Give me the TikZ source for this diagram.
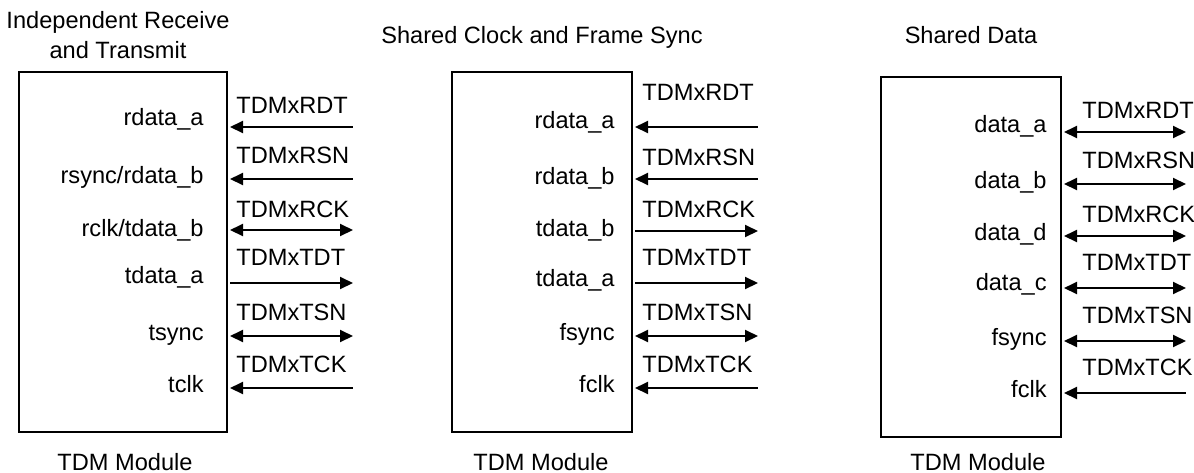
\documentclass[tikz,border=0pt]{standalone}
\usepackage{fontspec}
\setmainfont{Liberation Sans}
\usetikzlibrary{arrows.meta}

\begin{document}
\begin{tikzpicture}[x=0.5pt,y=-0.5pt,>={Triangle[length=6.5pt,width=6pt]},
    font=\fontsize{11.8}{15}\selectfont,
    modbox/.style={draw,line width=1pt,inner sep=0pt},
    sigline/.style={line width=1pt,shorten <=1pt},
    signame/.style={anchor=base east,inner sep=0pt},
    pinname/.style={anchor=base west,inner sep=0pt},
    caption/.style={anchor=base,inner sep=0pt}]
  \useasboundingbox (0,0) rectangle (1194,472);

  % independent receive and transmit
  \node[caption,anchor=north,align=center] (title1) at (118,11) {Independent Receive\\and Transmit};
  \node[modbox,minimum width=104pt,minimum height=180pt] (mod1) at (123,252) {};
  \node[caption] (cap1) at (125,470) {TDM Module};
  \coordinate (rdt1) at (353,127);
  \coordinate (rsn1) at (353,179);
  \coordinate (rck1) at (353,230);
  \coordinate (tdt1) at (353,283);
  \coordinate (tsn1) at (353,336);
  \coordinate (tck1) at (353,388);
  \node[signame] (rdataa1) at (204,125) {rdata\_a};
  \node[signame] (rsync1) at (204,183) {rsync/rdata\_b};
  \node[signame] (rclk1) at (204,236) {rclk/tdata\_b};
  \node[signame] (tdataa1) at (204,283) {tdata\_a};
  \node[signame] (tsync1) at (204,340) {tsync};
  \node[signame] (tclk1) at (204,392) {tclk};
  \node[pinname] (rdtname1) at (236,113) {TDMxRDT};
  \node[pinname] (rsnname1) at (236,163) {TDMxRSN};
  \node[pinname] (rckname1) at (236,217) {TDMxRCK};
  \node[pinname] (tdtname1) at (236,265) {TDMxTDT};
  \node[pinname] (tsnname1) at (236,320) {TDMxTSN};
  \node[pinname] (tckname1) at (236,372) {TDMxTCK};
  \draw[sigline,<-] (mod1.east |- rdt1) -- (rdt1);
  \draw[sigline,<-] (mod1.east |- rsn1) -- (rsn1);
  \draw[sigline,<->] (mod1.east |- rck1) -- (rck1);
  \draw[sigline,->] (mod1.east |- tdt1) -- (tdt1);
  \draw[sigline,<->] (mod1.east |- tsn1) -- (tsn1);
  \draw[sigline,<-] (mod1.east |- tck1) -- (tck1);

  % shared clock and frame sync
  \node[caption] (title2) at (542,43) {Shared Clock and Frame Sync};
  \node[modbox,minimum width=90pt,minimum height=180pt] (mod2) at (542,252) {};
  \node[caption] (cap2) at (541,470) {TDM Module};
  \coordinate (rdt2) at (758,127);
  \coordinate (rsn2) at (758,179);
  \coordinate (rck2) at (758,231);
  \coordinate (tdt2) at (758,283);
  \coordinate (tsn2) at (758,336);
  \coordinate (tck2) at (758,388);
  \node[signame] (rdataa2) at (615,128) {rdata\_a};
  \node[signame] (rdatab2) at (615,184) {rdata\_b};
  \node[signame] (tdatab2) at (615,236) {tdata\_b};
  \node[signame] (tdataa2) at (615,286) {tdata\_a};
  \node[signame] (fsync2) at (615,340) {fsync};
  \node[signame] (fclk2) at (615,392) {fclk};
  \node[pinname] (rdtname2) at (642,100) {TDMxRDT};
  \node[pinname] (rsnname2) at (642,165) {TDMxRSN};
  \node[pinname] (rckname2) at (642,217) {TDMxRCK};
  \node[pinname] (tdtname2) at (642,265) {TDMxTDT};
  \node[pinname] (tsnname2) at (642,320) {TDMxTSN};
  \node[pinname] (tckname2) at (642,372) {TDMxTCK};
  \draw[sigline,<-] (mod2.east |- rdt2) -- (rdt2);
  \draw[sigline,<-] (mod2.east |- rsn2) -- (rsn2);
  \draw[sigline,->] (mod2.east |- rck2) -- (rck2);
  \draw[sigline,->] (mod2.east |- tdt2) -- (tdt2);
  \draw[sigline,<->] (mod2.east |- tsn2) -- (tsn2);
  \draw[sigline,<-] (mod2.east |- tck2) -- (tck2);

  % shared data
  \node[caption] (title3) at (971,43) {Shared Data};
  \node[modbox,minimum width=90pt,minimum height=180pt] (mod3) at (971,257) {};
  \node[caption] (cap3) at (978,470) {TDM Module};
  \coordinate (rdt3) at (1186,132);
  \coordinate (rsn3) at (1186,184);
  \coordinate (rck3) at (1186,236);
  \coordinate (tdt3) at (1186,288);
  \coordinate (tsn3) at (1186,341);
  \coordinate (tck3) at (1186,393);
  \node[signame] (dataa3) at (1047,132) {data\_a};
  \node[signame] (datab3) at (1047,188) {data\_b};
  \node[signame] (datad3) at (1047,240) {data\_d};
  \node[signame] (datac3) at (1047,290) {data\_c};
  \node[signame] (fsync3) at (1047,345) {fsync};
  \node[signame] (fclk3) at (1047,397) {fclk};
  \node[pinname] (rdtname3) at (1082,118) {TDMxRDT};
  \node[pinname] (rsnname3) at (1082,168) {TDMxRSN};
  \node[pinname] (rckname3) at (1082,222) {TDMxRCK};
  \node[pinname] (tdtname3) at (1082,270) {TDMxTDT};
  \node[pinname] (tsnname3) at (1082,323) {TDMxTSN};
  \node[pinname] (tckname3) at (1082,375) {TDMxTCK};
  \draw[sigline,<->] (mod3.east |- rdt3) -- (rdt3);
  \draw[sigline,<->] (mod3.east |- rsn3) -- (rsn3);
  \draw[sigline,<->] (mod3.east |- rck3) -- (rck3);
  \draw[sigline,<->] (mod3.east |- tdt3) -- (tdt3);
  \draw[sigline,<->] (mod3.east |- tsn3) -- (tsn3);
  \draw[sigline,<-] (mod3.east |- tck3) -- (tck3);
\end{tikzpicture}
\end{document}
